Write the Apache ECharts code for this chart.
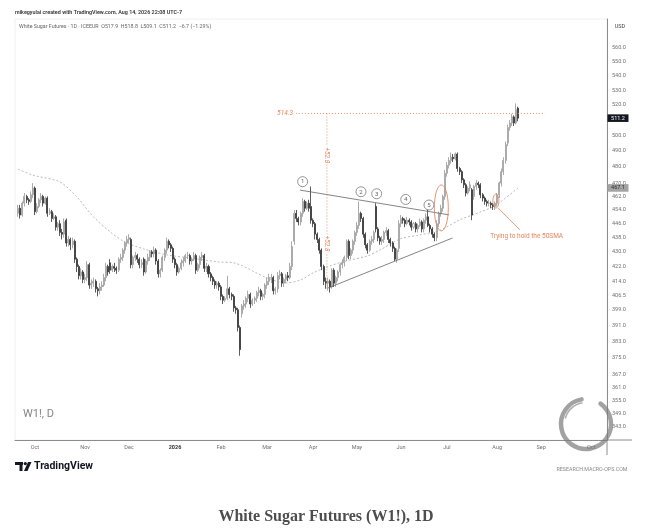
<!DOCTYPE html>
<html><head><meta charset="utf-8">
<script src="https://cdn.jsdelivr.net/npm/echarts@6/dist/echarts.min.js"></script>
<style>html,body{margin:0;padding:0;background:#fff;}#c{width:652px;height:529px;}</style>
</head><body><div id="c"></div>
<script>
// ---- data (prices in USD) ----
const opens = [
452,455,451,458,462,460,459,463,467,453,
456,460,462,458,461,452,453,449,450,444,
446,441,440,448,435,437,434,436,426,422,
417,419,415,416,423,412,413,414,410,409,
411,412,416,422,424,420,422,421,420,426,
427,431,435,437,437,423,427,428,426,423,
426,419,425,427,430,429,431,425,418,420,
427,431,436,434,432,426,423,419,421,424,
425,428,428,425,426,428,420,423,427,428,
421,422,418,416,414,412,413,411,406,404,
405,410,407,406,400,399,390,397,401,402,
405,407,402,404,405,408,409,406,407,412,
414,416,416,409,410,417,418,413,415,417,
416,422,436,452,449,447,452,459,455,458,
456,448,446,440,437,431,422,414,413,414,
411,420,413,416,419,423,424,427,436,428,
431,436,441,445,452,449,440,434,431,436,
437,456,443,438,436,437,441,442,437,435,
432,426,432,446,449,448,446,448,447,444,
446,443,445,447,443,448,450,445,443,440,
438,446,452,455,462,476,481,484,486,485,
488,479,477,472,469,464,467,466,462,468,
470,469,463,461,459,458,458,457,456,458,
463,470,477,484,495,505,508,512,508,517.9];
const closes = [
455,451,458,462,460,459,463,467,453,456,
460,462,458,461,452,453,449,450,444,446,
441,440,447,435,437,434,436,426,422,417,
419,415,416,423,412,413,414,410,409,411,
412,416,422,419,420,422,421,420,426,427,
431,435,437,438,423,427,428,426,423,424,
419,425,427,430,429,431,425,418,420,427,
431,436,434,432,426,423,419,421,424,425,
428,428,425,426,428,420,423,427,428,421,
422,418,416,414,412,413,411,406,404,405,
410,407,406,400,399,390,379,401,402,405,
407,402,404,405,408,409,406,407,412,414,
416,416,409,410,417,418,413,415,417,416,
422,433,452,449,447,452,459,455,458,455,
448,446,440,437,431,422,414,413,414,411,
420,413,416,419,423,424,427,436,428,431,
436,441,445,452,449,440,434,431,436,437,
441,443,438,436,437,441,442,437,435,432,
426,431,446,449,448,446,448,447,444,446,
443,445,447,443,448,450,445,443,440,438,
446,452,455,462,476,481,484,486,485,488,
479,477,472,469,464,467,469,451,468,470,
469,463,461,459,458,458,457,456,458,463,
470,477,484,494,505,508,512,508,517,511.2];
const highs = [
457,457,459,464,463,461,465,470,468,458,
461,464,463,462,462,455,454,452,451,447,
448,443,449,449,439,438,438,437,427,423,
421,420,418,425,424,415,416,415,411,413,
414,418,424,423,426,423,424,422,427,429,
432,436,439,440,438,428,430,429,427,426,
427,426,429,431,431,433,432,426,421,428,
432,438,437,435,433,427,424,422,426,427,
429,430,429,427,430,429,424,428,430,429,
424,423,419,417,415,414,414,412,407,406,
417,411,408,407,401,400,391,402,404,406,
409,408,405,406,409,411,410,408,413,416,
418,418,417,411,419,420,419,416,418,419,
424,436,454,454,450,453,461,460,459,460,
468,449,447,441,438,432,423,416,416,415,
421,421,417,420,424,426,428,437,437,432,
437,442,447,459,453,450,441,435,437,439,
442,458,444,439,439,442,444,443,438,436,
433,432,448,451,450,449,450,449,448,447,
447,446,449,448,449,452,456,446,444,441,
448,453,457,463,478,483,486,489,488,489,
489,480,478,473,470,468,471,467,469,472,
471,470,464,462,460,460,459,458,459,464,
471,479,486,496,507,510,514,513,521,518.8];
const lows = [
450,449,450,456,458,457,458,461,451,452,
455,458,456,457,450,451,447,448,442,442,
439,437,438,433,433,431,432,424,419,415,
415,413,413,414,410,410,411,408,406,407,
409,411,414,417,418,419,419,418,419,424,
425,429,433,435,421,421,425,424,421,421,
417,418,423,425,427,427,423,416,416,419,
425,429,432,430,424,421,417,418,420,422,
424,426,423,423,425,418,419,421,425,419,
419,416,414,412,410,410,409,404,402,403,
404,405,404,398,397,388,376,395,399,400,
403,400,401,402,403,406,404,404,405,410,
412,413,407,407,408,415,411,411,413,414,
415,420,434,447,445,445,450,453,454,453,
446,444,437,435,429,420,412,410,409,408,
410,411,411,414,417,421,422,425,426,426,
429,434,439,443,447,438,432,429,430,434,
435,441,436,434,434,435,439,435,433,430,
425,424,430,444,446,444,445,445,442,443,
441,441,444,441,441,446,444,441,438,436,
436,444,450,453,460,474,479,482,483,484,
477,475,470,467,462,463,465,448,460,466,
467,461,459,457,456,456,455,454,454,456,
461,468,475,482,493,503,506,506,507,509.1];
// 50-day SMA read at selected bars
const smaBars   = [0,7,20,28,36,44,51,60,71,82,96,103,119,128,135,141,148,155,167,173,183,192,202,211,221,228,239];
const smaValues = [478.6,474.9,470.7,461.7,450.0,441.3,435.6,431.7,428.4,426.7,424.5,424.0,415.8,413.1,414.7,418.5,421.8,424.5,427.8,431.1,437.5,439.5,442.4,448.2,452.8,456.5,467.1];
// time axis labels and their slot positions
const monthLabels = ['Oct','Nov','Dec','2026','Feb','Mar','Apr','May','Jun','Jul','Aug','Sep','Oct'];
const monthSlots  = [9,33,54,76,98,120,142,163,184,206,230,251,275];
// price axis labels
const priceTicks = [560,550,540,530,520,500,490,480,470,462,454,446,438,430,422,414,406.5,399,391,383,375,367,361,355,349,343];
const yMinPrice = 337.2, yMaxPrice = 581.1;
const lastPrice = 511.2, smaLast = 467.1;
// annotations (slot, price)
const triUpper = [[135.7,465.8],[207.0,451.1]];
const triLower = [[149.1,410.4],[208.6,437.8]];
const targetPrice = 514.3, targetFrom = 133.8, targetTo = 252.9;
const measureSlot = 148.6, measureLow = 409.4, measureMid = 461.5, measureText = '+52.8';
const circleMarks = [[137.0,470.9,'1'],[164.9,464.8,'2'],[172.4,463.6,'3'],[186.3,460.2,'4'],[197.4,456.9,'5']];
const bigEllipse = [203.3,455.2], smallEllipse = [229.4,459.3];
const pointer = [[230.4,455.2],[240.9,442.4]];
const noteAt = [226.7,439.0], noteText = 'Trying to hold the 50SMA';

const SLOTS = 283, LEAD = 1;
const lg = v => Math.log10(v);
const slotNames = Array.from({length: SLOTS}, (_, s) => 's' + s);
const labelAt = {};
monthSlots.forEach((s, k) => { labelAt[s] = monthLabels[k]; });

const candleData = opens.map((o, i) => [i + LEAD, lg(o), lg(closes[i]), lg(lows[i]), lg(highs[i])]);
const smaData = smaBars.map((b, k) => [b + LEAD, lg(smaValues[k])]);

const chart = echarts.init(document.getElementById('c'), null, {renderer: 'canvas'});
const FONT = 'Roboto';
chart.setOption({
  animation: false,
  backgroundColor: '#ffffff',
  grid: {left: 15, right: 45, top: 19, bottom: 89, show: true, borderColor: '#ececec', borderWidth: 0.8, backgroundColor: 'transparent'},
  xAxis: {
    type: 'category', data: slotNames, boundaryGap: true,
    axisTick: {show: false},
    axisLine: {show: true, lineStyle: {color: '#8c8c8c', width: 1}},
    splitLine: {show: false},
    axisLabel: {
      interval: (idx) => labelAt[idx] !== undefined,
      formatter: (v, idx) => { const t = labelAt[idx]; return t === '2026' ? '{b|2026}' : (t || ''); },
      color: '#707070', fontSize: 5.5, fontFamily: FONT, margin: 5, hideOverlap: false,
      rich: {b: {fontWeight: 'bold', color: '#333', fontSize: 5.5, fontFamily: FONT}}
    }
  },
  yAxis: {
    type: 'value', position: 'right', min: lg(yMinPrice), max: lg(yMaxPrice),
    axisLine: {show: true, lineStyle: {color: '#8c8c8c', width: 1}},
    axisTick: {show: false}, splitLine: {show: false},
    axisLabel: {customValues: priceTicks.map(lg), formatter: v => Math.pow(10, v).toFixed(1),
      color: '#707070', fontSize: 5.5, fontFamily: FONT, margin: 5}
  },
  series: [
    {type: 'candlestick', data: candleData, encode: {x: 0, y: [1, 2, 3, 4]}, barWidth: '72%',
     itemStyle: {color: '#f2f2f2', color0: '#333333', borderColor: '#979797', borderColor0: '#333333', borderWidth: 0.8}},
    {type: 'line', data: smaData, symbol: 'none', connectNulls: true, smooth: 0.3,
     lineStyle: {color: '#a8a8a8', width: 0.8, type: [2, 2]}, z: 1}
  ]
});

function px(slot, price) {
  const s0 = Math.floor(slot), f = slot - s0;
  const a = chart.convertToPixel({gridIndex: 0}, [s0, lg(price)]);
  const b = chart.convertToPixel({gridIndex: 0}, [s0 + 1, lg(price)]);
  return [a[0] + (b[0] - a[0]) * f, a[1]];
}
const orange = '#e3875e';
const g = [];
const Z = 100;
function line(p1, p2, style) { g.push({type: 'line', z: Z, silent: true, shape: {x1: p1[0], y1: p1[1], x2: p2[0], y2: p2[1]}, style: style}); }
function text(x, y, t, font, fill, align, extra) {
  g.push(Object.assign({type: 'text', z: Z + 2, silent: true, x: x, y: y,
    style: {text: t, font: font, fill: fill, textAlign: align || 'left', textVerticalAlign: 'middle'}}, extra || {}));
}
// triangle
line(px(...triUpper[0]), px(...triUpper[1]), {stroke: '#666', lineWidth: 0.8});
line(px(...triLower[0]), px(...triLower[1]), {stroke: '#666', lineWidth: 0.8});
// target & measured move
const tA = px(targetFrom, targetPrice), tB = px(targetTo, targetPrice);
line(tA, tB, {stroke: orange, lineWidth: 0.9, lineDash: [1, 2]});
const vTop = px(measureSlot, targetPrice), vBot = px(measureSlot, measureLow), vMid = px(measureSlot, measureMid);
line(vTop, vBot, {stroke: orange, lineWidth: 0.9, lineDash: [1, 2]});
text(tA[0] - 3, tA[1], targetPrice.toFixed(1), 'italic 6.5px Roboto', orange, 'right');
[(vTop[1] + vMid[1]) / 2, (vMid[1] + vBot[1]) / 2].forEach(yy => {
  g.push({type: 'text', z: Z + 2, silent: true, x: vTop[0], y: yy, rotation: -Math.PI / 2,
    style: {text: measureText, font: 'italic 6.5px Roboto', fill: orange, textAlign: 'center', textVerticalAlign: 'middle', backgroundColor: '#fff', padding: [0, 1]}});
});
// numbered circles
circleMarks.forEach(c => {
  const p = px(c[0], c[1]);
  g.push({type: 'circle', z: Z, silent: true, shape: {cx: p[0], cy: p[1], r: 5}, style: {fill: '#fff', stroke: '#7a7a7a', lineWidth: 0.8}});
  text(p[0], p[1] + 0.3, c[2], '6px Roboto', '#666', 'center');
});
// ellipses & note
const e1 = px(...bigEllipse), e2 = px(...smallEllipse);
g.push({type: 'ellipse', z: Z, silent: true, shape: {cx: e1[0], cy: e1[1], rx: 7, ry: 23}, style: {fill: 'none', stroke: orange, lineWidth: 0.9}});
g.push({type: 'ellipse', z: Z, silent: true, shape: {cx: e2[0], cy: e2[1], rx: 3, ry: 7}, style: {fill: 'none', stroke: orange, lineWidth: 0.9}});
line(px(...pointer[0]), px(...pointer[1]), {stroke: orange, lineWidth: 0.8});
const nt = px(...noteAt);
text(nt[0], nt[1], noteText, '6.5px Roboto', orange, 'left');
// price tags on the axis
const yl = px(0, lastPrice)[1], ys = px(0, smaLast)[1];
g.push({type: 'rect', z: Z, silent: true, shape: {x: 607.5, y: yl - 3.8, width: 21, height: 7.6}, style: {fill: '#131722'}});
text(618, yl, lastPrice.toFixed(1), '5.5px Roboto', '#fff', 'center');
g.push({type: 'rect', z: Z, silent: true, shape: {x: 607.5, y: ys - 3.8, width: 21, height: 7.6}, style: {fill: '#a3a3a3'}});
text(618, ys, smaLast.toFixed(1), '5.5px Roboto', '#2c2c2c', 'center');
// axis extensions
line([607, 440], [607, 455], {stroke: '#8c8c8c', lineWidth: 1});
line([607, 440], [632, 440], {stroke: '#8c8c8c', lineWidth: 1});
// header & footer texts
text(15, 13, 'mikegyulai created with TradingView.com, Aug 14, 2026 22:08 UTC-7', '600 5.4px Roboto', '#333', 'left');
text(19, 27, 'White Sugar Futures · 1D · ICEEUR  O517.9  H518.8  L509.1  C511.2  −6.7 (−1.29%)', '5.3px Roboto', '#666', 'left');
text(620, 26.5, 'USD', '5.5px Roboto', '#444', 'center');
text(23, 414, 'W1!, D', '11px Roboto', '#858585', 'left');
// TradingView logo
g.push({type: 'rect', z: Z, silent: true, shape: {x: 15, y: 462, width: 8, height: 3}, style: {fill: '#131722'}});
g.push({type: 'rect', z: Z, silent: true, shape: {x: 19.5, y: 462, width: 3, height: 9}, style: {fill: '#131722'}});
g.push({type: 'circle', z: Z, silent: true, shape: {cx: 25.3, cy: 463.6, r: 1.6}, style: {fill: '#131722'}});
g.push({type: 'polygon', z: Z, silent: true, shape: {points: [[28, 462], [31.5, 462], [27.5, 471], [24, 471]]}, style: {fill: '#131722'}});
text(34, 466.5, 'TradingView', 'bold 10.5px Roboto', '#131722', 'left');
text(592, 470, 'RESEARCH.MACRO-OPS.COM', '5.3px Roboto', '#8a8a8a', 'center');
// enso watermark (semi-transparent so the axis labels show through)
g.push({type: 'arc', z: Z + 1, silent: true, shape: {cx: 586, cy: 424, r: 25, startAngle: -0.95, endAngle: -1.75 + Math.PI * 2, clockwise: true},
  style: {stroke: '#7a7a7a', lineWidth: 4.5, fill: 'none', lineCap: 'round', opacity: 0.7}});
g.push({type: 'arc', z: Z + 1, silent: true, shape: {cx: 586, cy: 424, r: 21.5, startAngle: 3.4, endAngle: 4.55, clockwise: true},
  style: {stroke: '#8a8a8a', lineWidth: 1.5, fill: 'none', opacity: 0.7}});
// caption
text(326, 517, 'White Sugar Futures (W1!), 1D', 'bold 16px "Liberation Serif"', '#4d4d4d', 'center');
chart.setOption({graphic: {elements: g}});
</script>
</body></html>
